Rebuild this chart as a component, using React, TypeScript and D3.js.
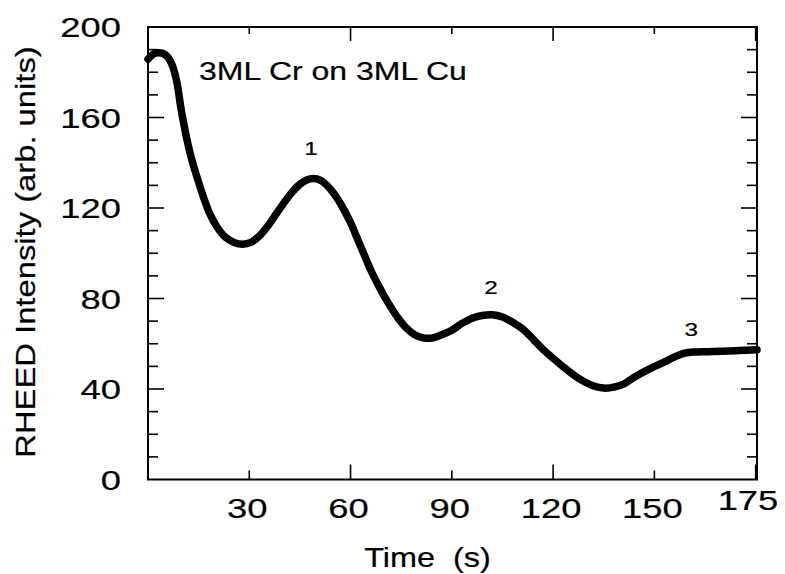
import React from "react";
import * as d3 from "d3";

const times = [0, 1.5, 3, 4.5, 6, 7.2, 8.5, 10, 12.5, 15.5, 18, 20.5, 23, 25.5, 28, 30.5, 33, 35.5, 38, 41, 43, 45, 47, 49, 51, 53, 55, 57, 60, 62, 64, 66, 68, 70, 72, 74, 76.5, 79, 81.5, 84, 87, 90, 93, 96, 99, 102, 105, 108, 111, 114, 117, 120, 123, 126, 129, 132, 135, 138, 141, 144, 147, 150, 153, 156, 159, 162, 166, 170, 175, 180.4];
const intensity = [185.8, 188, 188.6, 188.3, 186.5, 183, 176, 162, 144, 129, 118.5, 111.5, 107, 104.8, 104, 104.8, 107.6, 112, 117.5, 123.8, 127.5, 130.5, 132.4, 133, 132.3, 130, 126.5, 122, 113.5, 106.5, 99.5, 92.5, 86.5, 81, 76, 71.5, 67, 64, 62.6, 62.5, 64, 66, 69, 71.3, 72.5, 72.8, 71.8, 69.5, 66.5, 62.2, 57.5, 53.6, 49.8, 46.3, 43.4, 41.3, 40.4, 40.8, 42.3, 45.2, 47.7, 49.9, 52, 54.2, 55.9, 56.4, 56.5, 56.7, 57, 57.3];

const yTickValues = [0, 40, 80, 120, 160, 200];
const xTickValues = [30, 60, 90, 120, 150];
const endLabel = "175";
const peakLabels = ["1", "2", "3"];
const peakLabelT = [48.3, 101.6, 160.9];
const peakLabelI = [143.5, 82, 63.5];
const title = "3ML Cr on 3ML Cu";
const xTitle = "Time  (s)";
const yTitle = "RHEED Intensity (arb. units)";

const X_MAX = 180.4;
const FONT = "'Liberation Sans', Arial, Helvetica, sans-serif";

export default function App() {
  const left = 148, right = 757, top = 27, bottom = 479.5;
  const x = d3.scaleLinear().domain([0, X_MAX]).range([left, right]);
  const y = d3.scaleLinear().domain([0, 200]).range([bottom, top]);
  const line = d3
    .line<number>()
    .x((_, i) => x(times[i]))
    .y((d) => y(d))
    .curve(d3.curveCatmullRom.alpha(0.5));

  const yMinor = d3.range(10, 200, 10);
  const xMinor = d3.range(30, X_MAX, 30);
  const txt = { fill: "#000", stroke: "#000", strokeWidth: 0.2 };

  return (
    <svg
      width={785}
      height={574}
      style={{ position: "absolute", left: 0, top: 0, background: "#fff" }}
      fontFamily={FONT}
    >
      <rect x={0} y={0} width={785} height={574} fill="#fff" />
      <rect x={left} y={top} width={right - left} height={bottom - top} fill="none" stroke="#000" strokeWidth={2} />
      {yMinor.map((v) => {
        const len = v % 40 === 0 ? 16 : 10;
        return (
          <g key={"yt" + v}>
            <line x1={left} x2={left + len} y1={y(v)} y2={y(v)} stroke="#000" strokeWidth={1.6} />
            <line x1={right} x2={right - len} y1={y(v)} y2={y(v)} stroke="#000" strokeWidth={1.6} />
          </g>
        );
      })}
      {xMinor.map((v) => {
        const lb = v % 60 === 0 ? 15 : 9;
        const lt = v % 60 === 0 ? 14 : 7;
        return (
          <g key={"xt" + v}>
            <line x1={x(v)} x2={x(v)} y1={bottom} y2={bottom - lb} stroke="#000" strokeWidth={1.6} />
            <line x1={x(v)} x2={x(v)} y1={top} y2={top + lt} stroke="#000" strokeWidth={1.6} />
          </g>
        );
      })}
      {yTickValues.map((v) => (
        <text
          key={"yl" + v}
          transform={`translate(121,${y(v) + 10}) scale(1.3,1)`}
          textAnchor="end"
          fontSize={28}
          {...txt}
        >
          {v}
        </text>
      ))}
      {xTickValues.map((v) => (
        <text
          key={"xl" + v}
          transform={`translate(${x(v) - 2},518) scale(1.3,1)`}
          textAnchor="middle"
          fontSize={28}
          {...txt}
        >
          {v}
        </text>
      ))}
      <text transform={`translate(${x(X_MAX) - 9},510) scale(1.3,1)`} textAnchor="middle" fontSize={28} {...txt}>
        {endLabel}
      </text>
      <text
        transform={`translate(${(363 + 492) / 2},567) scale(1.2,1)`}
        textAnchor="middle"
        fontSize={27}
        {...txt}
        style={{ whiteSpace: "pre" }}
      >
        {xTitle}
      </text>
      <text
        transform={`translate(35,252) rotate(-90) scale(1.17,1)`}
        textAnchor="middle"
        fontSize={28}
        {...txt}
      >
        {yTitle}
      </text>
      <text transform={`translate(199,80) scale(1.28,1)`} fontSize={25} {...txt}>
        {title}
      </text>
      {peakLabels.map((s, i) => (
        <text
          key={"pk" + i}
          transform={`translate(${x(peakLabelT[i])},${y(peakLabelI[i])}) scale(1.35,1)`}
          textAnchor="middle"
          fontSize={18}
          {...txt}
        >
          {s}
        </text>
      ))}
      <path d={line(intensity) || ""} fill="none" stroke="#000" strokeWidth={7.5} strokeLinejoin="round" strokeLinecap="round" />
    </svg>
  );
}
